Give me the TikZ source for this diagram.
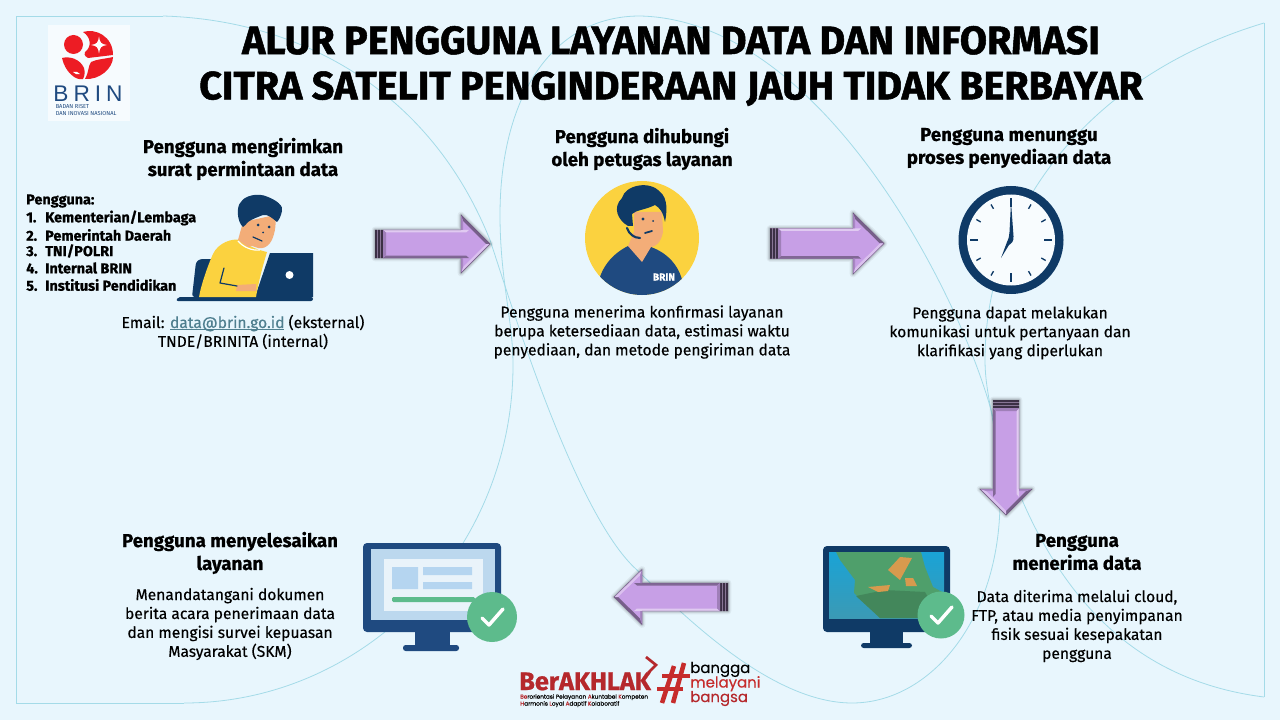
\documentclass[tikz,border=0pt]{standalone}
\usepackage{fontspec}
\setmainfont{Fira Sans}
\newfontfamily\heavyface[FakeBold=1.3]{Fira Sans Bold}
\newfontfamily\boldface[FakeBold=0.8]{Fira Sans Bold}
\newfontfamily\mediumface[FakeBold=0.35]{Fira Sans}
\newfontfamily\logoface[LetterSpace=22]{Liberation Sans}
\newfontfamily\popface[FakeBold=0.3]{Poppins}
\usetikzlibrary{calc}
\definecolor{pagebg}{HTML}{E8F6FD}
\definecolor{wave}{HTML}{A4DBE8}
\definecolor{navy}{HTML}{0F3A66}
\definecolor{navytwo}{HTML}{1F4A80}
\definecolor{sun}{HTML}{FBD23F}
\definecolor{skin}{HTML}{F3AD78}
\definecolor{okgreen}{HTML}{5DBB8C}
\definecolor{mauve}{HTML}{C79FE6}
\definecolor{brinred}{HTML}{ED1C24}
\definecolor{akhlakred}{HTML}{B5282C}
\definecolor{hashred}{HTML}{C62C2C}
\definecolor{seatop}{HTML}{1AA3D6}
\definecolor{seabottom}{HTML}{3B9AB5}
\definecolor{land}{HTML}{4F9F6B}
\definecolor{sand}{HTML}{D79A4E}
\definecolor{formscreen}{HTML}{BCD8EE}
\definecolor{formpage}{HTML}{E9F3FA}
\definecolor{formfield}{HTML}{B5D5F0}
\definecolor{linkcolor}{HTML}{4F7F8F}
\newcommand{\tightlines}{\lineskiplimit-5pt\relax}
\tikzset{
  wavy/.style={draw=wave,line width=0.6pt},
  titletext/.style={font=\heavyface\fontsize{29.6}{34}\selectfont,align=center,inner sep=0pt},
  headtext/.style={font=\boldface\fontsize{14}{17.2}\selectfont,align=center,inner sep=0pt},
  bodytext/.style={font=\mediumface\fontsize{11.7}{14.2}\selectfont,align=center,inner sep=0pt},
  listtext/.style={font=\boldface\fontsize{10.8}{12.5}\selectfont,align=left,inner sep=0pt,anchor=west},
}
\newcommand{\numbered}[2]{\hbox to 14.25pt{#1\hfil}#2}
% Link text with a close underline
\newcommand{\linktext}[1]{\setbox0\hbox{#1}\textcolor{linkcolor}{\rlap{\rule[-1.4pt]{\wd0}{0.5pt}}#1}}
% Bevelled block arrow: x, y, rotation, head base, tip, half body, half head
\newcommand{\bevelarrow}[7]{%
  \begin{scope}[shift={(#1,#2)},rotate=#3]
    \foreach \wd/\op in {5pt/.05,3.2pt/.08,1.6pt/.12}{
      \draw[black,opacity=\op,line width=\wd,line join=round]
        (0,-#6) -- (#4,-#6) -- (#4,-#7) -- (#5,0) -- (#4,#7) -- (#4,#6) -- (0,#6) -- cycle;
    }
    \fill[mauve] (8,-#6) -- (#4,-#6) -- (#4,-#7) -- (#5,0) -- (#4,#7) -- (#4,#6) -- (8,#6) -- cycle;
    \fill[mauve!60!black!80] (0,-#6) rectangle (8,#6);
    \fill[black!70!mauve] (0,-#6) rectangle (2,#6) (3,-#6) rectangle (5,#6) (6,-#6) rectangle (8,#6);
    \fill[mauve!55!white] (8,-#6) -- ({#4+8},-#6) -- ({#4+5},{-#6+2.5}) -- (11,{-#6+2.5}) -- cycle;
    \fill[mauve!65!black] (8,#6) -- ({#4+8},#6) -- ({#4+5},{#6-2.5}) -- (11,{#6-2.5}) -- cycle;
    \fill[mauve!80!black] (8,-#6) -- (11,{-#6+2.5}) -- (11,{#6-2.5}) -- (8,#6) -- cycle;
    \fill[mauve!60!black] (#4,-#7) -- (#5,0) -- ({#5-4},0) -- ({#4+2},{-#7+6}) -- cycle;
    \fill[mauve!65!white] (#4,#7) -- (#5,0) -- ({#5-4},0) -- ({#4+2},{#7-6}) -- cycle;
    \fill[mauve!85!black] (#4,-#7) -- ({#4+2},{-#7+6}) -- ({#4+2},-#6) -- (#4,-#6) -- cycle;
    \fill[mauve!85!black] (#4,#7) -- ({#4+2},{#7-6}) -- ({#4+2},#6) -- (#4,#6) -- cycle;
    \draw[mauve!55!black,line width=0.3pt,line join=round]
      (8,-#6) -- (#4,-#6) -- (#4,-#7) -- (#5,0) -- (#4,#7) -- (#4,#6) -- (8,#6);
  \end{scope}%
}
% Round green badge with a white tick
\newcommand{\tickbadge}[3]{%
  \fill[okgreen] (#1,#2) circle (#3);
  \begin{scope}[shift={(#1,#2)}]
    \draw[white,line width=2.6pt,line cap=round,line join=round] (-10,1) -- (-3,8) -- (11,-8);
  \end{scope}%
}
\begin{document}
\begin{tikzpicture}[x=0.75pt,y=-0.75pt]
\useasboundingbox (0,0) rectangle (1280,720);
\fill[pagebg] (0,0) rectangle (1280,720);

% Background wave outlines
\draw[wavy] (163,16) -- (16,16) -- (16,703) -- (184,703);
\draw[wavy] (1264,23) -- (1264,697);
\draw[wavy] (163,16) .. controls (300,20) and (430,90) .. (490,240)
  .. controls (510,300) and (575,515) .. (637,570)
  .. controls (680,612) and (770,703) .. (852,703)
  .. controls (930,703) and (1000,620) .. (1000,500)
  .. controls (1000,430) and (985,400) .. (985,360)
  .. controls (985,210) and (1090,75) .. (1264,23);
\draw[wavy] (1264,697) .. controls (1130,680) and (1040,590) .. (991,410)
  .. controls (958,290) and (820,20) .. (640,16)
  .. controls (550,16) and (500,100) .. (500,215)
  .. controls (500,280) and (513,320) .. (513,365)
  .. controls (513,550) and (365,703) .. (184,703);

% BRIN logo
\fill[white!60!pagebg] (48,25) rectangle (130,121);
\fill[brinred] (73.5,44.5) circle (9.5);
\fill[brinred] (83,32) .. controls (95,28) and (113,36) .. (113,55) -- (88,58) .. controls (84,56) and (84,53) .. (85,52) .. controls (92,47) and (91,37) .. cycle;
\fill[brinred] (113,57) .. controls (113,68) and (100,80) .. (85,79) .. controls (89,72) and (88,66) .. (91,62) .. controls (97,59) and (105,59) .. cycle;
\fill[brinred] (62,58) .. controls (70,56) and (80,59) .. (84,68) .. controls (85,72) and (85,75) .. (83,79) .. controls (76,81) and (65,72) .. cycle;
\fill[white] (99,36.5) .. controls (100,43) and (101,44) .. (107,45) .. controls (101,46) and (100,47) .. (99,53.5) .. controls (98,47) and (97,46) .. (91,45) .. controls (97,44) and (98,43) .. cycle;
\fill[white] (73,72) .. controls (76,71) and (78,72) .. (80,74) .. controls (77,75) and (75,74) .. cycle;
\node[font=\logoface\fontsize{17}{17}\selectfont,text=navytwo,inner sep=0pt] (brinword) at (88,94) {BRIN};
\node[font=\fontsize{4.3}{5}\selectfont,text=navytwo,align=left,inner sep=0pt,anchor=west] (brinname) at (55.5,110) {BADAN RISET\\DAN INOVASI NASIONAL};

% Heading
\node[titletext] (maintitle) at (671,66) {ALUR PENGGUNA LAYANAN DATA DAN INFORMASI\\CITRA SATELIT PENGINDERAAN JAUH TIDAK BERBAYAR};

% Step one: the request
\node[headtext] (sendhead) at (243,159) {Pengguna mengirimkan\\surat permintaan data};
\node[listtext] (userhead) at (26,201) {Pengguna:};
\node[listtext] (userone) at (26,218) {\numbered{1.}{Kementerian/Lembaga}};
\node[listtext] (usertwo) at (26,235) {\numbered{2.}{Pemerintah Daerah}};
\node[listtext] (userthree) at (26,251) {\numbered{3.}{TNI/POLRI}};
\node[listtext] (userfour) at (26,268) {\numbered{4.}{Internal BRIN}};
\node[listtext] (userfive) at (26,285) {\numbered{5.}{Institusi Pendidikan}};
\node[bodytext] (sendbody) at (243,332) {Email: \linktext{data@brin.go.id} (eksternal)\\TNDE/BRINITA (internal)};

% Person at a laptop
\fill[navy,rounded corners=2pt] (192,297) -- (196,262) -- (200,259) -- (215,259) -- (215,297) -- cycle;
\fill[navy] (270,253) -- (313,253) -- (313,297) -- (255,297) -- cycle;
\fill[navy,rounded corners=1.5pt] (176,301) -- (178,297) -- (313,297) -- (313,301) -- cycle;
\fill[white] (289.5,275) circle (4);
\fill[sun] (199,297) .. controls (201,285) and (208,265) .. (213,254) .. controls (218,243) and (232,238) .. (240,240) .. controls (248,246) and (258,250) .. (267,252) .. controls (262,268) and (258,285) .. (256,297) -- cycle;
\fill[skin] (237,285) -- (256,284) -- (256,291) -- (236,291) -- cycle;
\fill[skin] (238,240) -- (243,222) -- (275,215) .. controls (277,225) and (274,238) .. (270,243) .. controls (267,247) and (263,249) .. (258,248) -- (252,246) -- (248,247) -- cycle;
\draw[white,line width=0.9pt] (238,241) .. controls (243,247) and (252,251) .. (260,250);
\fill[navy] (243,227) .. controls (237,222) and (236,206) .. (241,202) .. controls (244,196) and (258,192) .. (268,197) .. controls (276,200) and (284,206) .. (282,211) .. controls (281,216) and (279,220) .. (277,222) .. controls (272,218) and (268,214) .. (263,215) .. controls (258,217) and (252,219) .. (248,222) .. controls (246,224) and (245,226) .. cycle;
\fill[navy] (258,225) circle (1.5) (269,227) circle (1.5) (263,232.5) circle (1);
\draw[navy,line width=0.9pt,line cap=round] (253,237) -- (262,241);
\draw[navy,line width=0.9pt,line cap=round,line join=round] (224,268) -- (220,283) -- (237,286);

% Step two: the service officer
\fill[sun] (642,238) circle (57);
\begin{scope}
  \clip (642,238) circle (57);
  \fill[navytwo] (597,295) .. controls (597,272) and (610,255) .. (628,246) -- (651,247) .. controls (670,254) and (684,270) .. (684,295) -- cycle;
  \fill[skin] (628,246) -- (634,232) -- (634,212) -- (662,212) -- (663,232) .. controls (661,243) and (655,247) .. (651,247) -- (642,262) -- cycle;
  \fill[navy] (628,226) .. controls (618,220) and (612,208) .. (622,198) .. controls (625,185) and (650,180) .. (660,192) .. controls (668,198) and (667,212) .. (665,222) .. controls (663,212) and (660,208) .. (655,205) .. controls (645,210) and (636,210) .. (632,214) -- (633,226) -- cycle;
  \draw[navy,line width=1.6pt,line cap=round] (627,228) .. controls (629,234) and (634,238) .. (640,238);
  \fill[navy] (643,219) circle (1.7) (653,221) circle (1) ;
  \draw[navy,line width=1.3pt,line cap=round] (645,233) -- (652,231);
\end{scope}
\node[font=\boldface\fontsize{7.6}{8}\selectfont,text=white,inner sep=0pt] (officerbadge) at (664,277) {BRIN};
\node[headtext] (callhead) at (642,149) {Pengguna dihubungi\\oleh petugas layanan};
\node[bodytext] (callbody) at (642,332) {Pengguna menerima konfirmasi layanan\\berupa ketersediaan data, estimasi waktu\\penyediaan, dan metode pengiriman data};

% Step three: the wait, with a clock
\fill[navy] (1011,240) ellipse (52.5 and 54);
\fill[white!70!pagebg] (1011,240) ellipse (44 and 45.5);
\foreach \ang in {30,60,120,150,210,240,300,330}{
  \draw[navy,line width=1pt] ($(1011,240)+(\ang:35 and 36)$) -- ($(1011,240)+(\ang:40 and 41)$);
}
\foreach \ang in {0,90,180,270}{
  \draw[navy,line width=1.4pt] ($(1011,240)+(\ang:33 and 33)$) -- ($(1011,240)+(\ang:41 and 42)$);
}
\fill[navy] (1011,202) -- (1013.5,236) .. controls (1014,241) and (1012,243) .. (1009,245) -- (1001,258) -- (1007,242) .. controls (1009,238) and (1009,236) .. (1009.5,232) -- cycle;
\node[headtext] (waithead) at (1009,148) {Pengguna menunggu\\proses penyediaan data};
\node[bodytext] (waitbody) at (1010,333) {Pengguna dapat melakukan\\komunikasi untuk pertanyaan dan\\klarifikasi yang diperlukan};

% Step four: the data arrives, shown on a monitor
\fill[navy,rounded corners=3pt] (823,546) rectangle (950,632);
\shade[top color=seatop,bottom color=seabottom] (829,552) rectangle (944,618);
\fill[land] (836,552) -- (840,560) -- (855,580) -- (854,593) -- (880,618) -- (944,618) -- (944,593) -- (933,587) -- (925,567) -- (921,552) -- cycle;
\fill[land!85!black] (856,596) -- (885,590) -- (925,592) -- (940,618) -- (880,618) -- cycle;
\fill[sand] (888,570) -- (900,557) -- (912,558) -- (900,580) -- cycle;
\fill[sand] (905,578) -- (913,578) -- (917,586) -- (906,586) -- cycle;
\fill[sand] (868,587) -- (890,585) -- (888,591) -- (878,592) -- cycle;
\fill[navy] (870,632) rectangle (903,644);
\fill[navy,rounded corners=2pt] (861,643) rectangle (912,648);
\tickbadge{941}{615}{23.5}
\node[headtext] (gethead) at (1077,552) {Pengguna\\menerima data};
\node[bodytext] (getbody) at (1077,626) {Data diterima melalui cloud,\\FTP, atau media penyimpanan\\fisik sesuai kesepakatan\\pengguna};

% Step five: the service is closed, with a form on a monitor
\fill[navytwo,rounded corners=3pt] (363,543) rectangle (501,632);
\fill[formscreen] (371,549) rectangle (495,620);
\fill[formpage] (384,559) rectangle (483,611);
\fill[formfield] (392,567) rectangle (418,589) (423,567) rectangle (472,575) (423,582) rectangle (472,589);
\fill[okgreen,rounded corners=1pt] (392,597) rectangle (475,602);
\fill[navytwo] (415,632) rectangle (450,646);
\fill[navytwo,rounded corners=2pt] (403,645) rectangle (459,651);
\tickbadge{492}{617}{25}
\node[headtext] (endhead) at (230,553) {Pengguna menyelesaikan\\layanan};
\node[bodytext] (endbody) at (230,624) {Menandatangani dokumen\\berita acara penerimaan data\\dan mengisi survei kepuasan\\Masyarakat (SKM)};

% Flow arrows between the steps
\bevelarrow{375}{244}{0}{86}{115}{14}{29}
\bevelarrow{770}{243.5}{0}{83}{114}{15}{30.5}
\bevelarrow{1006}{400}{-90}{89}{115}{13}{26}
\bevelarrow{728}{597}{180}{86}{114}{14}{27.5}

% Campaign marks at the bottom
\node[font=\boldface\fontsize{19}{19}\selectfont,text=akhlakred,inner sep=0pt,anchor=base west] (akhlakword) at (519,690) {BerAKHLAK};
\draw[akhlakred,line width=2pt,line join=miter] (646,657) -- (656,665) -- (648,673);
\node[font=\popface\fontsize{4.3}{5.2}\selectfont\tightlines,align=left,inner sep=0pt,anchor=north west] (akhlakmotto) at (520,694) {\textcolor{akhlakred}{Be}rorientasi Pelayanan \textcolor{akhlakred}{A}kuntabel \textcolor{akhlakred}{K}ompeten\\\textcolor{akhlakred}{H}armonis \textcolor{akhlakred}{L}oyal \textcolor{akhlakred}{A}daptif \textcolor{akhlakred}{K}olaboratif};
\draw[hashred,line width=3.4pt] (684,663) -- (673,703) (674,666) -- (662,703);
\draw[hashred,line width=3.4pt] (662,676) -- (690,676) (657,689) -- (683,689);
\node[font=\popface\fontsize{11.2}{10.9}\selectfont\tightlines,align=left,inner sep=0pt,anchor=west] (prideword) at (690,684) {bangga\\\textcolor{hashred}{melayani}\\\textcolor{akhlakred}{bangsa}};
\end{tikzpicture}
\end{document}
